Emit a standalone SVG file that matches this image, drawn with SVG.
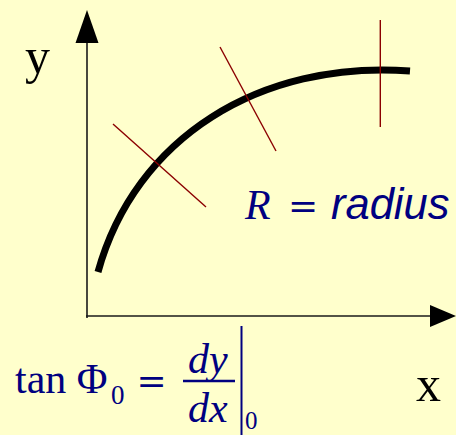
<svg xmlns="http://www.w3.org/2000/svg" width="456" height="435" viewBox="0 0 456 435">
  <style>
    .axis { stroke: #1a1a1a; stroke-width: 1.6; fill: none; }
    .normal { stroke: #8b0000; stroke-width: 1.4; fill: none; }
    .curve { stroke: #000; stroke-width: 7; fill: none; }
    .lbl { font-family: "Liberation Serif", "Times New Roman", serif; fill: #000; }
    .math { font-family: "Liberation Serif", "Times New Roman", serif; fill: #000080; }
    .eq { font-family: "DejaVu Serif", serif; fill: #000080; }
    .sans { font-family: "Liberation Sans", Arial, sans-serif; fill: #000080; }
  </style>
  <rect width="456" height="435" fill="#ffffcc"/>
  <g id="connectors">
    <line class="axis" x1="87" y1="318" x2="87" y2="40"/>
    <polygon points="87,10 75.5,43 98.5,43" fill="#000"/>
    <line class="axis" x1="86" y1="316" x2="432" y2="316"/>
    <polygon points="456,316 430,305 430,327" fill="#000"/>
  </g>
  <g id="curve">
    <path class="curve" d="M98,272 C135,138 260,60 410,71"/>
  </g>
  <g id="normals">
    <line class="normal" x1="113" y1="124" x2="206" y2="207"/>
    <line class="normal" x1="220" y1="47" x2="276" y2="151"/>
    <line class="normal" x1="380.3" y1="20" x2="380.3" y2="127"/>
  </g>
  <g id="label-y"><text class="lbl" x="25" y="73" font-size="50">y</text></g>
  <g id="label-x"><text class="lbl" x="416" y="401" font-size="50">x</text></g>
  <g id="label-radius">
    <text class="math" x="245" y="219" font-size="42" font-style="italic">R</text>
    <text class="eq" x="303" y="218" font-size="36" text-anchor="middle">=</text>
    <text class="sans" x="331" y="219" font-size="43.5" font-style="italic">radius</text>
  </g>
  <g id="formula">
    <text class="math" x="15" y="393" font-size="42">tan Φ</text>
    <text class="math" x="111" y="404" font-size="27">0</text>
    <text class="eq" x="151.5" y="393" font-size="36" text-anchor="middle">=</text>
    <text class="math" x="188" y="373" font-size="42" font-style="italic">dy</text>
    <line x1="183" y1="381" x2="235" y2="381" stroke="#000080" stroke-width="2.5"/>
    <text class="math" x="188" y="422" font-size="42" font-style="italic">dx</text>
    <line x1="241.5" y1="326" x2="241.5" y2="435" stroke="#000080" stroke-width="2"/>
    <text class="math" x="245" y="429" font-size="25">0</text>
  </g>
</svg>
